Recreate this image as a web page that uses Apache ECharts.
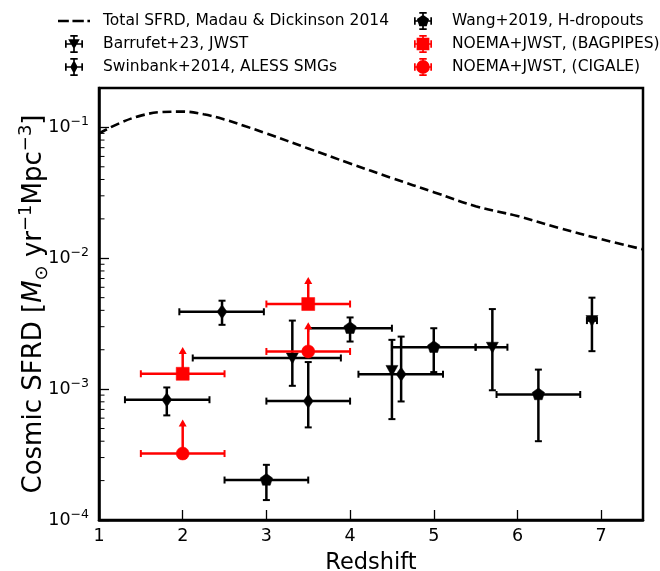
<!DOCTYPE html>
<html>
<head>
<meta charset="utf-8">
<script src="https://cdn.jsdelivr.net/npm/echarts@6/dist/echarts.min.js"></script>
<style>
html,body{margin:0;padding:0;background:#fff;}
#chart{width:660px;height:571px;}
</style>
</head>
<body>
<div id="chart"></div>
<script>
// Madau & Dickinson 2014 total SFRD
var mdZ = [1, 1.25, 1.5, 1.75, 2, 2.25, 2.5, 2.75, 3, 3.5, 4, 4.5, 5, 5.5, 6, 6.5, 7, 7.5];
var mdSFRD = [0.090, 0.108, 0.123, 0.131, 0.132, 0.126, 0.115, 0.102, 0.090, 0.069, 0.053, 0.041, 0.032, 0.025, 0.021, 0.017, 0.014, 0.0117];

// Barrufet+23
var barZ = [3.31, 4.50, 5.70, 6.89];
var barSFRD = [1.73e-3, 1.39e-3, 2.09e-3, 3.34e-3];
var barZlo = [2.12, null, 5.50, 6.83];
var barZhi = [3.89, null, 5.88, 6.95];
var barLo = [1.06e-3, 5.9e-4, 9.8e-4, 1.95e-3];
var barHi = [3.34e-3, 2.38e-3, 4.09e-3, 5.0e-3];

// Swinbank+2014
var swZ = [1.81, 2.47, 3.50, 4.61];
var swSFRD = [8.3e-4, 3.9e-3, 8.1e-4, 1.30e-3];
var swZlo = [1.31, 1.96, 3.0, 4.1];
var swZhi = [2.32, 2.97, 4.0, 5.11];
var swLo = [6.3e-4, 3.1e-3, 5.1e-4, 8.05e-4];
var swHi = [1.03e-3, 4.74e-3, 1.61e-3, 2.52e-3];

// Wang+2019
var wZ = [3.0, 4.0, 5.0, 6.25];
var wSFRD = [2.02e-4, 2.92e-3, 2.09e-3, 9.1e-4];
var wZlo = [2.5, 3.5, 4.5, 5.75];
var wZhi = [3.5, 4.5, 5.5, 6.75];
var wLo = [1.42e-4, 2.31e-3, 1.35e-3, 4.0e-4];
var wHi = [2.64e-4, 3.53e-3, 2.92e-3, 1.41e-3];

// NOEMA+JWST lower limits
var bpZ = [2.0, 3.5];
var bpSFRD = [1.31e-3, 4.47e-3];
var bpZlo = [1.5, 3.0];
var bpZhi = [2.5, 4.0];
var bpTip = [2.1e-3, 7.2e-3];

var cgZ = [2.0, 3.5];
var cgSFRD = [3.22e-4, 1.94e-3];
var cgZlo = [1.5, 3.0];
var cgZhi = [2.5, 4.0];
var cgTip = [5.85e-4, 3.24e-3];

var FONT = 'DejaVu Sans';
var names = [
  'Total SFRD, Madau & Dickinson 2014',
  'Barrufet+23, JWST',
  'Swinbank+2014, ALESS SMGs',
  'Wang+2019, H-dropouts',
  'NOEMA+JWST, (BAGPIPES)',
  'NOEMA+JWST, (CIGALE)'
];

// legend icons: errorbar cross + marker
var cross = 'M2 9.2h16v1.6h-16z M1.5 6.5h1.6v7h-1.6z M16.9 6.5h1.6v7h-1.6z M9.2 2h1.6v16h-1.6z M6.5 1.5h7v1.6h-7z M6.5 16.9h7v1.6h-7z ';
var icons = {
  dash: 'path://M0 0h10.5v2.6h-10.5z M14 0h11v2.6h-11z M28.5 0h2.5v2.6h-2.5z',
  tri: 'path://' + cross + 'M4.5 5.5L15.5 5.5L10 15z',
  dia: 'path://' + cross + 'M10 3.5L13.5 10L10 16.5L6.5 10z',
  pent: 'path://' + cross + 'M10 4L15.7 8.1L13.5 14.9L6.5 14.9L4.3 8.1z',
  sq: 'path://' + cross + 'M4 4h12v12h-12z',
  circ: 'path://' + cross + 'M10 3.5A6.5 6.5 0 1 1 9.99 3.5z'
};

function zip() {
  var arrs = Array.prototype.slice.call(arguments);
  return arrs[0].map(function (_, i) {
    return arrs.map(function (a) { return a[i] == null ? '-' : a[i]; });
  });
}

function markerShape(kind, c, color) {
  var x = c[0], y = c[1];
  var st = {fill: color, stroke: color, lineWidth: 0.5};
  if (kind === 'tri') return {type: 'polygon', shape: {points: [[x - 6, y - 5], [x + 6, y - 5], [x, y + 6]]}, style: st};
  if (kind === 'dia') return {type: 'polygon', shape: {points: [[x, y - 7], [x + 5, y], [x, y + 7], [x - 5, y]]}, style: st};
  if (kind === 'pent') {
    var pts = [];
    for (var k = 0; k < 5; k++) {
      var a = -Math.PI / 2 + k * 2 * Math.PI / 5;
      pts.push([x + 6.5 * Math.cos(a), y + 6.5 * Math.sin(a)]);
    }
    return {type: 'polygon', shape: {points: pts}, style: st};
  }
  if (kind === 'sq') return {type: 'rect', shape: {x: x - 6.5, y: y - 6.5, width: 13, height: 13}, style: st};
  return {type: 'circle', shape: {cx: x, cy: y, r: 6.5}, style: st};
}

function ok(v) { return typeof v === 'number' && isFinite(v); }

// data: [z, y, zlo, zhi, ylo, yhi] or for limits [z, y, zlo, zhi, tip]
function makeRender(kind, color, isLimit) {
  return function (params, api) {
    var z = api.value(0), y = api.value(1);
    var c = api.coord([z, y]);
    var ch = [];
    var lw = 2.5, cap = 3.5;
    var ls = {stroke: color, lineWidth: lw};
    var cs = {stroke: color, lineWidth: 2};
    var zlo = api.value(2), zhi = api.value(3);
    if (ok(zlo) && ok(zhi)) {
      var a = api.coord([zlo, y]), b = api.coord([zhi, y]);
      ch.push({type: 'line', shape: {x1: a[0], y1: a[1], x2: b[0], y2: b[1]}, style: ls});
      ch.push({type: 'line', shape: {x1: a[0], y1: a[1] - cap, x2: a[0], y2: a[1] + cap}, style: cs});
      ch.push({type: 'line', shape: {x1: b[0], y1: b[1] - cap, x2: b[0], y2: b[1] + cap}, style: cs});
    }
    if (isLimit) {
      var t = api.coord([z, api.value(4)]);
      ch.push({type: 'line', shape: {x1: c[0], y1: c[1], x2: t[0], y2: t[1] + 5}, style: ls});
      ch.push({type: 'polygon', shape: {points: [[t[0], t[1]], [t[0] - 4, t[1] + 7], [t[0] + 4, t[1] + 7]]}, style: {fill: color}});
    } else {
      var ylo = api.value(4), yhi = api.value(5);
      if (ok(ylo) && ok(yhi)) {
        var p = api.coord([z, ylo]), q = api.coord([z, yhi]);
        ch.push({type: 'line', shape: {x1: p[0], y1: p[1], x2: q[0], y2: q[1]}, style: ls});
        ch.push({type: 'line', shape: {x1: p[0] - cap, y1: p[1], x2: p[0] + cap, y2: p[1]}, style: cs});
        ch.push({type: 'line', shape: {x1: q[0] - cap, y1: q[1], x2: q[0] + cap, y2: q[1]}, style: cs});
      }
    }
    ch.push(markerShape(kind, c, color));
    return {type: 'group', children: ch};
  };
}

// matplotlib style minor ticks on the log axis
var minorVals = [];
for (var d = -4; d <= -1; d++) {
  for (var m = 2; m <= 9; m++) {
    var v = m * Math.pow(10, d);
    if (v < 0.2) minorVals.push([v]);
  }
}

var chart = echarts.init(document.getElementById('chart'));

var legendText = {fontFamily: FONT, fontSize: 15.5, lineHeight: 18, color: '#000', padding: [0, 0, 0, 8]};

chart.setOption({
  animation: false,
  textStyle: {fontFamily: FONT, color: '#000'},
  grid: {left: 99, right: 17, top: 88, bottom: 51, outerBoundsMode: 'none', containLabel: false,
    show: true, borderColor: '#000', borderWidth: 2.5, backgroundColor: 'transparent'},
  legend: [
    {
      left: 58, top: 12, padding: 0, orient: 'vertical', itemWidth: 32, itemHeight: 18, itemGap: 5,
      selectedMode: false, textStyle: legendText,
      data: [
        {name: names[0], icon: icons.dash},
        {name: names[1], icon: icons.tri},
        {name: names[2], icon: icons.dia}
      ]
    },
    {
      left: 414, top: 12, padding: 0, orient: 'vertical', itemWidth: 32, itemHeight: 18, itemGap: 5,
      selectedMode: false, textStyle: legendText,
      data: [
        {name: names[3], icon: icons.pent},
        {name: names[4], icon: icons.sq},
        {name: names[5], icon: icons.circ}
      ]
    }
  ],
  xAxis: {
    type: 'value', min: 1, max: 7.5, interval: 1,
    name: 'Redshift', nameLocation: 'middle', nameGap: 32, nameMoveOverlap: false,
    nameTextStyle: {fontFamily: FONT, fontSize: 22.5, color: '#000'},
    axisLine: {lineStyle: {color: '#000', width: 2.5}},
    axisTick: {inside: true, length: 10, lineStyle: {color: '#000', width: 1.3}},
    axisLabel: {fontFamily: FONT, fontSize: 17.5, color: '#000', margin: 7, showMaxLabel: false,
      formatter: function (v) { return Math.abs(v - Math.round(v)) < 1e-9 ? String(v) : ''; }},
    splitLine: {show: false}
  },
  yAxis: {
    type: 'log', logBase: 10, min: 1e-4, max: 0.2,
    name: '{n|Cosmic SFRD [}{i|M}{sub|\u2299}{n| yr}{sup|\u22121}{n|Mpc}{sup|\u22123}{n|]}',
    nameLocation: 'middle', nameRotate: 90, nameGap: 48, nameMoveOverlap: false,
    nameTextStyle: {
      fontFamily: FONT, fontSize: 26, color: '#000',
      rich: {
        n: {fontFamily: FONT, fontSize: 26, color: '#000', lineHeight: 34},
        i: {fontFamily: FONT, fontSize: 26, color: '#000', fontStyle: 'italic', lineHeight: 34},
        sub: {fontFamily: FONT, fontSize: 18, color: '#000', verticalAlign: 'bottom', lineHeight: 27},
        sup: {fontFamily: FONT, fontSize: 18, color: '#000', verticalAlign: 'top', lineHeight: 24}
      }
    },
    axisLine: {lineStyle: {color: '#000', width: 2.5}},
    axisTick: {inside: true, length: 10, lineStyle: {color: '#000', width: 1.3}},
    axisLabel: {
      margin: 10, showMaxLabel: false,
      formatter: function (v) {
        var e = Math.log10(v), r = Math.round(e);
        if (Math.abs(e - r) > 1e-6) return '';
        return '{b|10}{s|' + (r < 0 ? '\u2212' : '') + Math.abs(r) + '}';
      },
      rich: {
        b: {fontFamily: FONT, fontSize: 17.5, color: '#000', lineHeight: 24},
        s: {fontFamily: FONT, fontSize: 12.5, color: '#000', verticalAlign: 'top', lineHeight: 17}
      }
    },
    splitLine: {show: false}
  },
  series: [
    {
      name: names[0], type: 'line', data: zip(mdZ, mdSFRD), symbol: 'none', smooth: 0.4,
      lineStyle: {color: '#000', width: 2.6, type: [9, 4.5]}, itemStyle: {color: '#000'}, z: 3
    },
    {
      name: names[1], type: 'custom', itemStyle: {color: '#000'}, z: 4,
      dimensions: ['z', 'y', 'zlo', 'zhi', 'lo', 'hi'], encode: {x: 0, y: 1},
      data: zip(barZ, barSFRD, barZlo, barZhi, barLo, barHi),
      renderItem: makeRender('tri', '#000', false)
    },
    {
      name: names[2], type: 'custom', itemStyle: {color: '#000'}, z: 4,
      dimensions: ['z', 'y', 'zlo', 'zhi', 'lo', 'hi'], encode: {x: 0, y: 1},
      data: zip(swZ, swSFRD, swZlo, swZhi, swLo, swHi),
      renderItem: makeRender('dia', '#000', false)
    },
    {
      name: names[3], type: 'custom', itemStyle: {color: '#000'}, z: 4,
      dimensions: ['z', 'y', 'zlo', 'zhi', 'lo', 'hi'], encode: {x: 0, y: 1},
      data: zip(wZ, wSFRD, wZlo, wZhi, wLo, wHi),
      renderItem: makeRender('pent', '#000', false)
    },
    {
      name: names[4], type: 'custom', itemStyle: {color: '#ff0000'}, z: 5,
      dimensions: ['z', 'y', 'zlo', 'zhi', 'tip'], encode: {x: 0, y: 1},
      data: zip(bpZ, bpSFRD, bpZlo, bpZhi, bpTip),
      renderItem: makeRender('sq', '#ff0000', true)
    },
    {
      name: names[5], type: 'custom', itemStyle: {color: '#ff0000'}, z: 5,
      dimensions: ['z', 'y', 'zlo', 'zhi', 'tip'], encode: {x: 0, y: 1},
      data: zip(cgZ, cgSFRD, cgZlo, cgZhi, cgTip),
      renderItem: makeRender('circ', '#ff0000', true)
    },
    {
      type: 'custom', silent: true, z: 6, encode: {y: 0},
      data: minorVals,
      renderItem: function (params, api) {
        var p = api.coord([1, api.value(0)]);
        return {type: 'line', shape: {x1: p[0], y1: p[1], x2: p[0] + 5.5, y2: p[1]}, style: {stroke: '#000', lineWidth: 1}};
      }
    }
  ]
});
</script>
</body>
</html>
